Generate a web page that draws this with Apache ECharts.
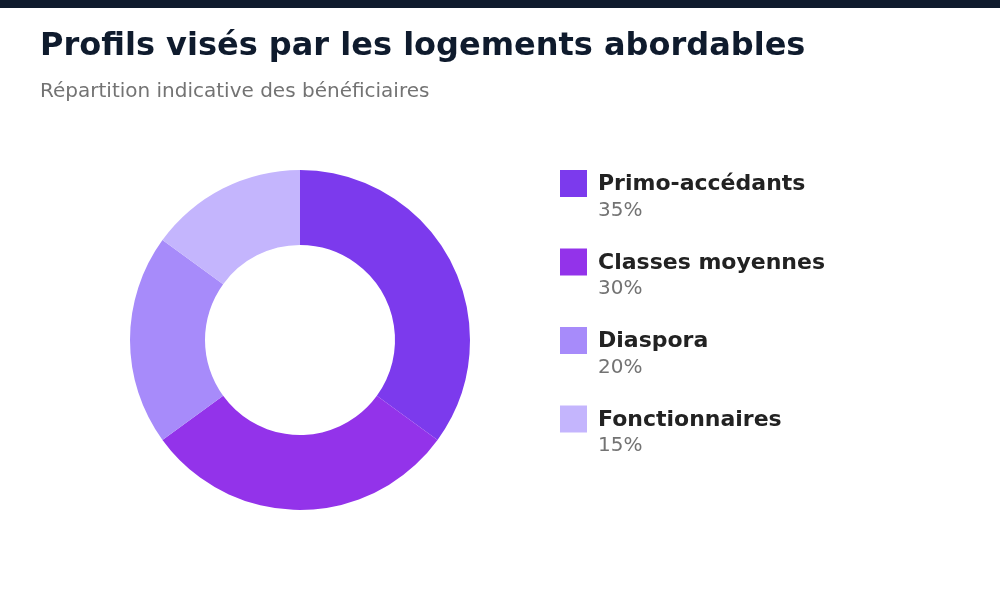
<!DOCTYPE html>
<html>
<head>
<meta charset="utf-8">
<script src="https://cdn.jsdelivr.net/npm/echarts@6/dist/echarts.min.js"></script>
<style>html,body{margin:0;padding:0;background:#fff}#c{width:1000px;height:600px}</style>
</head>
<body>
<div id="c"></div>
<script>
var categories = ['Primo-accédants', 'Classes moyennes', 'Diaspora', 'Fonctionnaires'];
var shares = [35, 30, 20, 15];
var colors = ['#7c3aed', '#9333ea', '#a78bfa', '#c4b5fd'];
var titleText = 'Profils visés par les logements abordables';
var subtitleText = 'Répartition indicative des bénéficiaires';

var chart = echarts.init(document.getElementById('c'), null, {renderer: 'canvas'});
var font = '"DejaVu Sans", Verdana, sans-serif';
var data = categories.map(function (c, i) {
  return {name: c, value: shares[i], itemStyle: {color: colors[i]}};
});
chart.setOption({
  backgroundColor: '#ffffff',
  animation: false,
  textStyle: {fontFamily: font},
  graphic: [{type: 'rect', left: 0, top: 0, shape: {width: 1000, height: 8}, style: {fill: '#0f1b2d'}}],
  title: [
    {text: titleText, left: 40, top: 31, padding: 0,
     textStyle: {fontFamily: font, fontSize: 32, fontWeight: 'bold', color: '#0f1b2d'}},
    {text: subtitleText, left: 40, top: 82, padding: 0,
     textStyle: {fontFamily: font, fontSize: 20, fontWeight: 'normal', color: '#737373'}}
  ],
  legend: {
    orient: 'vertical', left: 560, top: 170, padding: 0,
    itemWidth: 27, itemHeight: 27, itemGap: 28,
    icon: 'rect', selectedMode: false,
    data: categories,
    formatter: function (name) {
      var i = categories.indexOf(name);
      return '{n|' + name + '}\n{v|' + shares[i] + '%}';
    },
    textStyle: {
      fontFamily: font, padding: [26, 0, 0, 0],
      rich: {
        n: {fontFamily: font, fontSize: 22, fontWeight: 'bold', color: '#222222', lineHeight: 28, padding: [0, 0, 0, 6]},
        v: {fontFamily: font, fontSize: 20, color: '#737373', lineHeight: 24, padding: [0, 0, 0, 6]}
      }
    }
  },
  series: [{
    type: 'pie', center: [300, 340], radius: [95, 170],
    startAngle: 90, clockwise: true,
    label: {show: false}, labelLine: {show: false},
    emphasis: {disabled: true},
    data: data
  }]
});
</script>
</body>
</html>
